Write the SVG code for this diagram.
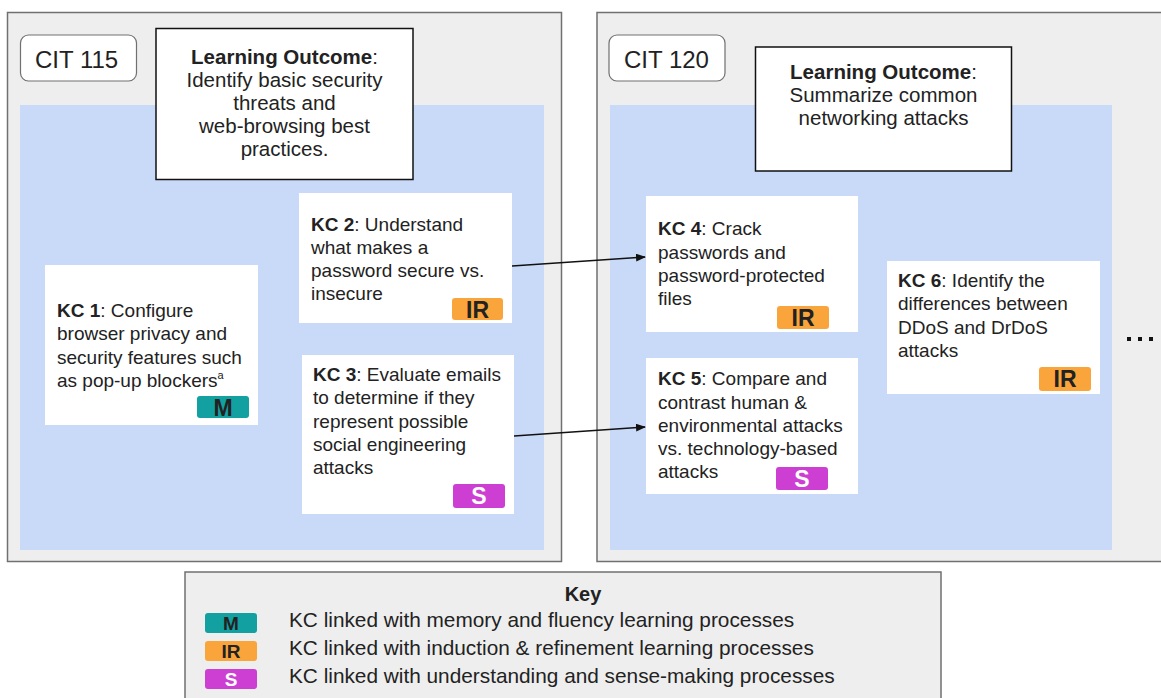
<svg xmlns="http://www.w3.org/2000/svg" width="1161" height="698" viewBox="0 0 1161 698">
<style>
text{font-family:"Liberation Sans",Arial,sans-serif;fill:#222}
.panel{fill:#eeeeee;stroke:#707070;stroke-width:1.5}
.blue{fill:#c9daf8}
.cit{fill:#ffffff;stroke:#707070;stroke-width:1.2}
.lo{fill:#ffffff;stroke:#111;stroke-width:1.5}
.kc{fill:#ffffff}
.t{font-size:19px}
.lot{font-size:20.5px;text-anchor:middle}
.citt{font-size:24px}
.b{font-weight:bold}
.m{fill:#12a0a0}
.ir{fill:#f9a53c}
.s{fill:#cd3fd3}
.bt{font-size:23px;font-weight:bold;text-anchor:middle}
.kb{font-size:19px;font-weight:bold;text-anchor:middle}
.kt{font-size:20.8px}
.conn{stroke:#111;stroke-width:1.3;fill:none}
</style>
<defs>
<marker id="ah" markerUnits="userSpaceOnUse" markerWidth="10" markerHeight="8" refX="9" refY="4" orient="auto">
<path d="M0,0 L10,4 L0,8 Z" fill="#111"/>
</marker>
</defs>

<g id="panel-cit115">
<rect class="panel" x="7.5" y="12.5" width="554" height="549"/>
<rect class="blue" x="20" y="105" width="524" height="445"/>
</g>
<g id="panel-cit120">
<rect class="panel" x="597" y="12.5" width="580" height="549"/>
<rect class="blue" x="610" y="105" width="502" height="445"/>
</g>

<g id="cit115">
<rect class="cit" x="20.5" y="35" width="116" height="46" rx="8"/>
<text class="citt" x="35" y="67.5">CIT 115</text>
</g>
<g id="lo115">
<rect class="lo" x="156" y="28.5" width="257" height="151"/>
<text class="lot" x="284.5" y="64"><tspan class="b">Learning Outcome</tspan>:</text>
<text class="lot" x="284.5" y="87">Identify basic security</text>
<text class="lot" x="284.5" y="110">threats and</text>
<text class="lot" x="284.5" y="133">web-browsing best</text>
<text class="lot" x="284.5" y="156">practices.</text>
</g>

<g id="kc1">
<rect class="kc" x="45" y="265" width="213" height="160"/>
<text class="t" x="57" y="317"><tspan class="b">KC 1</tspan>: Configure</text>
<text class="t" x="57" y="340">browser privacy and</text>
<text class="t" x="57" y="363.5">security features such</text>
<text class="t" x="57" y="387">as pop-up blockers<tspan font-size="11" dy="-8">a</tspan></text>
<rect class="m" x="197" y="396" width="52" height="22" rx="3"/>
<text class="bt" x="223" y="415.5">M</text>
</g>

<g id="kc2">
<rect class="kc" x="299" y="193" width="213" height="130"/>
<text class="t" x="311" y="231"><tspan class="b">KC 2</tspan>: Understand</text>
<text class="t" x="311" y="254">what makes a</text>
<text class="t" x="311" y="277">password secure vs.</text>
<text class="t" x="311" y="300">insecure</text>
<rect class="ir" x="452" y="298" width="51" height="22" rx="3"/>
<text class="bt" x="477.5" y="317.5">IR</text>
</g>

<g id="kc3">
<rect class="kc" x="302" y="355" width="212" height="159"/>
<text class="t" x="313" y="381"><tspan class="b">KC 3</tspan>: Evaluate emails</text>
<text class="t" x="313" y="404">to determine if they</text>
<text class="t" x="313" y="427.5">represent possible</text>
<text class="t" x="313" y="451">social engineering</text>
<text class="t" x="313" y="474">attacks</text>
<rect class="s" x="453" y="484" width="52" height="24" rx="3"/>
<text class="bt" x="479" y="504" style="fill:#fff">S</text>
</g>

<g id="cit120">
<rect class="cit" x="609" y="35" width="116" height="46" rx="8"/>
<text class="citt" x="624" y="67.5">CIT 120</text>
</g>
<g id="lo120">
<rect class="lo" x="755.5" y="47" width="256" height="124"/>
<text class="lot" x="883.5" y="79"><tspan class="b">Learning Outcome</tspan>:</text>
<text class="lot" x="883.5" y="102">Summarize common</text>
<text class="lot" x="883.5" y="125">networking attacks</text>
</g>

<g id="kc4">
<rect class="kc" x="646" y="196" width="212" height="136"/>
<text class="t" x="658" y="235"><tspan class="b">KC 4</tspan>: Crack</text>
<text class="t" x="658" y="258.5">passwords and</text>
<text class="t" x="658" y="282">password-protected</text>
<text class="t" x="658" y="305">files</text>
<rect class="ir" x="777" y="306" width="52" height="23" rx="3"/>
<text class="bt" x="803" y="326">IR</text>
</g>

<g id="kc5">
<rect class="kc" x="646" y="358" width="212" height="136"/>
<text class="t" x="658" y="385"><tspan class="b">KC 5</tspan>: Compare and</text>
<text class="t" x="658" y="408.5">contrast human &amp;</text>
<text class="t" x="658" y="432">environmental attacks</text>
<text class="t" x="658" y="455">vs. technology-based</text>
<text class="t" x="658" y="478">attacks</text>
<rect class="s" x="776" y="467" width="52" height="23" rx="3"/>
<text class="bt" x="802" y="487" style="fill:#fff">S</text>
</g>

<g id="kc6">
<rect class="kc" x="887" y="261" width="213" height="133"/>
<text class="t" x="898" y="287"><tspan class="b">KC 6</tspan>: Identify the</text>
<text class="t" x="898" y="310">differences between</text>
<text class="t" x="898" y="333.5">DDoS and DrDoS</text>
<text class="t" x="898" y="357">attacks</text>
<rect class="ir" x="1039" y="367" width="52" height="24" rx="3"/>
<text class="bt" x="1065" y="387">IR</text>
</g>

<g id="ellipsis">
<rect x="1127" y="337" width="4" height="4" fill="#111"/>
<rect x="1138" y="337" width="4" height="4" fill="#111"/>
<rect x="1149" y="337" width="4" height="4" fill="#111"/>
</g>

<g id="connectors">
<line class="conn" x1="512" y1="266" x2="645" y2="257" marker-end="url(#ah)"/>
<line class="conn" x1="514" y1="436" x2="645" y2="427" marker-end="url(#ah)"/>
</g>

<g id="key">
<rect class="panel" x="185" y="572" width="756" height="140"/>
<text x="583" y="601" font-size="20" font-weight="bold" text-anchor="middle">Key</text>
<rect class="m" x="205" y="613" width="52" height="20" rx="3"/>
<text class="kb" x="231" y="630">M</text>
<text class="kt" x="289" y="627">KC linked with memory and fluency learning processes</text>
<rect class="ir" x="205" y="641" width="52" height="20" rx="3"/>
<text class="kb" x="231" y="658">IR</text>
<text class="kt" x="289" y="655">KC linked with induction &amp; refinement learning processes</text>
<rect class="s" x="205" y="669" width="52" height="20" rx="3"/>
<text class="kb" x="231" y="686" style="fill:#fff">S</text>
<text class="kt" x="289" y="683">KC linked with understanding and sense-making processes</text>
</g>
</svg>
